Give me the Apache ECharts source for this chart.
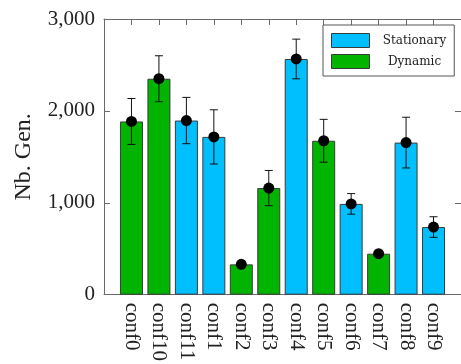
<!DOCTYPE html>
<html>
<head>
<meta charset="utf-8">
<script src="https://cdn.jsdelivr.net/npm/echarts@6/dist/echarts.min.js"></script>
<style>
  html, body { margin: 0; padding: 0; background: #fff; }
  #chart { width: 461px; height: 364px; }
</style>
</head>
<body>
<div id="chart"></div>
<script>
// Configurations, in plotting order
const categories = ['conf0', 'conf10', 'conf11', 'conf1', 'conf2', 'conf3', 'conf4', 'conf5', 'conf6', 'conf7', 'conf8', 'conf9'];
// Which scenario each configuration belongs to
const groups = ['Dynamic', 'Dynamic', 'Stationary', 'Stationary', 'Dynamic', 'Dynamic', 'Stationary', 'Dynamic', 'Stationary', 'Dynamic', 'Stationary', 'Stationary'];
// Mean number of generations
const meanGen = [1885, 2350, 1895, 1717, 330, 1160, 2565, 1675, 988, 446, 1655, 736];
// Standard deviation of the number of generations
const stdGen = [250, 250, 252, 295, 20, 192, 216, 233, 112, 25, 276, 112];
const yTicks = [0, 1000, 2000, 3000];

const serif = '"Liberation Serif", "DejaVu Serif", serif';
const frame = '#6a6a6a';
const colors = { Stationary: '#00bfff', Dynamic: '#00b400' };

function seriesData(name) {
  return meanGen.map((v, i) => groups[i] === name ? [i, v] : [i, null]);
}

const barStyle = name => ({
  type: 'bar',
  name: name,
  xAxisIndex: 0,
  yAxisIndex: 0,
  barWidth: 23,
  barGap: '-100%',
  data: seriesData(name),
  itemStyle: { color: colors[name], borderColor: '#3a3a3a', borderWidth: 1 }
});

const axisFrame = { show: true, onZero: false, lineStyle: { color: frame, width: 1 } };
const innerTick = { show: true, inside: true, length: 6, lineStyle: { color: frame } };

const chart = echarts.init(document.getElementById('chart'), null, { renderer: 'canvas' });
chart.setOption({
  animation: false,
  backgroundColor: '#ffffff',
  grid: { left: 104, top: 19, width: 361, height: 276 },
  legend: {
    data: ['Stationary', 'Dynamic'],
    orient: 'vertical',
    left: 323,
    top: 25,
    padding: [8, 8, 7, 8],
    itemGap: 6,
    itemWidth: 38,
    itemHeight: 14,
    borderColor: '#555',
    borderWidth: 1,
    backgroundColor: '#fff',
    icon: 'rect',
    itemStyle: { borderColor: '#3a3a3a', borderWidth: 1 },
    formatter: n => '{t|' + n + '}',
    textStyle: {
      rich: {
        t: { fontFamily: '"DejaVu Serif", serif', fontSize: 12, color: '#222', width: 80, align: 'center' }
      }
    }
  },
  xAxis: [
    {
      type: 'value', position: 'bottom', min: -1, max: 12, interval: 1,
      splitLine: { show: false },
      axisLine: axisFrame,
      axisTick: innerTick,
      axisLabel: {
        rotate: -90, margin: 8,
        fontFamily: serif, fontSize: 21, color: '#222',
        formatter: v => (v >= 0 && v < categories.length) ? categories[v] : ''
      }
    },
    {
      type: 'value', position: 'top', min: -1, max: 12, interval: 1,
      splitLine: { show: false },
      axisLine: axisFrame,
      axisTick: innerTick,
      axisLabel: { show: false }
    }
  ],
  yAxis: [
    {
      type: 'value', position: 'left', min: yTicks[0], max: yTicks[yTicks.length - 1], interval: 1000,
      name: 'Nb. Gen.', nameLocation: 'middle', nameGap: 68, nameRotate: 90,
      nameTextStyle: { fontFamily: serif, fontSize: 24, color: '#222' },
      splitLine: { show: false },
      axisLine: axisFrame,
      axisTick: innerTick,
      axisLabel: {
        margin: 9, fontFamily: serif, fontSize: 21, color: '#222',
        formatter: v => v.toLocaleString('en-US')
      }
    },
    {
      type: 'value', position: 'right', min: yTicks[0], max: yTicks[yTicks.length - 1], interval: 1000,
      splitLine: { show: false },
      axisLine: axisFrame,
      axisTick: innerTick,
      axisLabel: { show: false }
    }
  ],
  series: [
    barStyle('Stationary'),
    barStyle('Dynamic'),
    {
      // error bars: mean ± standard deviation
      type: 'custom',
      name: 'std',
      xAxisIndex: 0,
      yAxisIndex: 0,
      z: 5,
      data: meanGen.map((v, i) => [i, v - stdGen[i], v + stdGen[i]]),
      renderItem: (params, api) => {
        const x = api.value(0);
        const lo = api.coord([x, api.value(1)]);
        const hi = api.coord([x, api.value(2)]);
        const cap = 4;
        const style = { stroke: '#111', lineWidth: 1 };
        return {
          type: 'group',
          children: [
            { type: 'line', shape: { x1: lo[0], y1: lo[1], x2: hi[0], y2: hi[1] }, style },
            { type: 'line', shape: { x1: hi[0] - cap, y1: hi[1], x2: hi[0] + cap, y2: hi[1] }, style },
            { type: 'line', shape: { x1: lo[0] - cap, y1: lo[1], x2: lo[0] + cap, y2: lo[1] }, style }
          ]
        };
      }
    },
    {
      type: 'scatter',
      name: 'mean',
      xAxisIndex: 0,
      yAxisIndex: 0,
      z: 6,
      symbol: 'circle',
      symbolSize: 11,
      itemStyle: { color: '#000', opacity: 1 },
      data: meanGen.map((v, i) => [i, v])
    }
  ]
});
</script>
</body>
</html>
